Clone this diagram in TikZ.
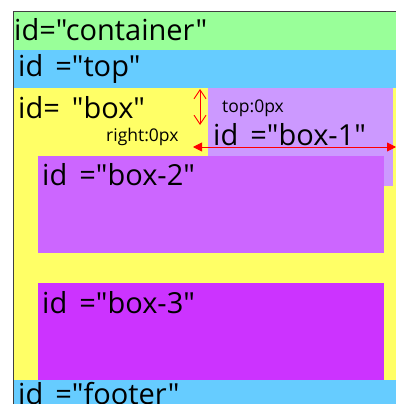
\documentclass[tikz,border=0pt]{standalone}
\usepackage{fontspec}
\setmainfont{Open Sans}[Ligatures=TeXOff]
\usetikzlibrary{arrows.meta}
\definecolor{cgreen}{HTML}{99FF99}
\definecolor{cblue}{HTML}{66CCFF}
\definecolor{cyellow}{HTML}{FFFF66}
\definecolor{cbox1}{HTML}{CC99FF}
\definecolor{cbox2}{HTML}{CC66FF}
\definecolor{cbox3}{HTML}{CC33FF}
\definecolor{credline}{HTML}{FF0000}
\newcommand\wsp{\hspace{12pt}}
\tikzset{
  bigtext/.style={anchor=base west, inner sep=0pt, font=\fontsize{29}{30}\selectfont},
  smalltext/.style={anchor=base west, inner sep=0pt, font=\fontsize{17.5}{18}\selectfont},
  redarrow/.style={draw=credline, line width=0.9pt},
}
\begin{document}
\begin{tikzpicture}[x=1pt,y=-1pt]
\useasboundingbox (0,0) rectangle (396,404);
\fill[white] (0,0) rectangle (396,404);
% regions
\fill[cgreen] (13,11) rectangle (396,50);
\fill[cblue] (14,50) rectangle (396,88);
\fill[cyellow] (14,88) rectangle (396,380);
\fill[cbox1] (208,88) rectangle (393,186);
\fill[cbox2] (38,156) rectangle (384,253);
\fill[cbox3] (38,283) rectangle (384,380);
\fill[cblue] (14,380) rectangle (396,404);
\draw[black!75, line width=1pt] (13.5,404) -- (13.5,11.5) -- (396,11.5);
% labels
\node[bigtext] (container) at (14,41) {id="container"};
\node[bigtext] (top) at (18,77) {id\wsp="top"};
\node[bigtext] (box) at (18,118) {id=\wsp"box"};
\node[bigtext] (box1) at (213,145) {id\wsp="box-1"};
\node[bigtext] (box2) at (42,185) {id\wsp="box-2"};
\node[bigtext] (box3) at (42,313) {id\wsp="box-3"};
\node[bigtext] (footer) at (18,404) {id\wsp="footer"};
\node[smalltext] (toplbl) at (222,112) {top:0px};
\node[smalltext] (rightlbl) at (106,141) {right:0px};
% arrows
\coordinate (va) at (200,89);
\coordinate (vb) at (200,125);
\coordinate (ha) at (193,147);
\coordinate (hb) at (396,147);
\draw[redarrow, {Straight Barb[length=9pt,width=12pt]}-{Straight Barb[length=9pt,width=12pt]}] (va) -- (vb);
\draw[redarrow, {Triangle[length=9pt,width=9pt]}-{Triangle[length=9pt,width=9pt]}] (ha) -- (hb);
\end{tikzpicture}
\end{document}
